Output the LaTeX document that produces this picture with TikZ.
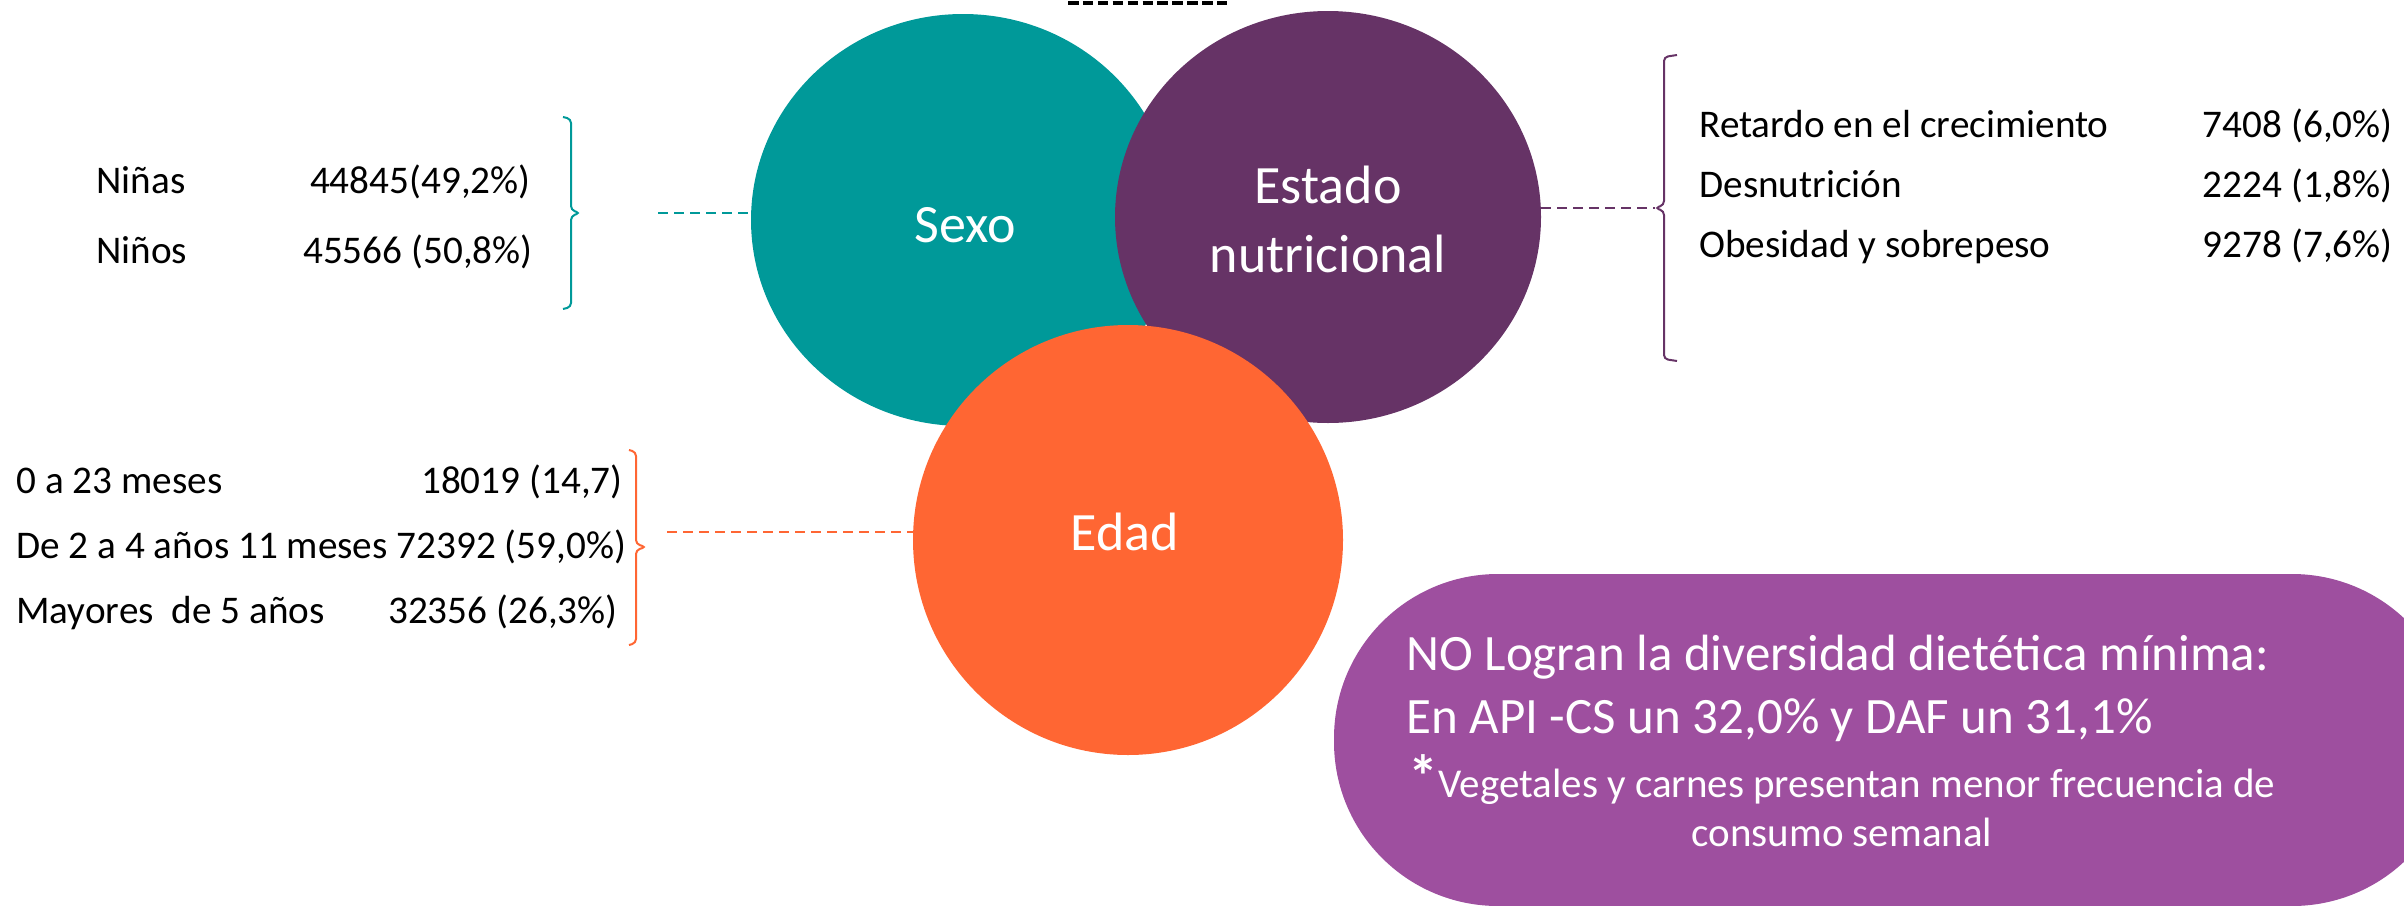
\documentclass[tikz,border=0pt]{standalone}
\usepackage{fontspec}
\setmainfont{Carlito}
\usetikzlibrary{shapes.geometric}
\definecolor{cteal}{RGB}{0,153,153}
\definecolor{cplum}{RGB}{102,51,102}
\definecolor{corange}{RGB}{255,102,51}
\definecolor{cbox}{RGB}{158,79,159}
\begin{document}
\begin{tikzpicture}[x=0.5pt,y=-0.5pt,
  txt/.style={inner sep=0pt, font=\fontsize{19.6pt}{24pt}\selectfont},
  lbl/.style={inner sep=0pt, text=white, font=\fontsize{27pt}{32pt}\selectfont, anchor=base},
  boxtxt/.style={inner sep=0pt, text=white},
  blob/.style={ellipse, inner sep=0pt, draw=none},
  brk/.style={line width=1pt, rounded corners=2pt},
  lead/.style={line width=1.2pt, dash pattern=on 5pt off 3pt}]
\useasboundingbox (0,0) rectangle (2404,905);
\clip (0,0) rectangle (2404,905);

% top dashed stroke
\coordinate (d1) at (1068,3);
\coordinate (d2) at (1227,3);
\draw[line width=1.7pt, dash pattern=on 5.25pt off 2.2pt] (d1) -- (d2);

% three blobs
\node[blob, fill=cteal, minimum width=212pt, minimum height=206pt] (sexo) at (963,220) {};
\node[blob, fill=cplum, minimum width=213pt, minimum height=206pt] (estado) at (1328,217) {};
\node[blob, fill=corange, minimum width=215pt, minimum height=215pt] (edad) at (1128,540) {};

\node[lbl] (tsexo) at (965,242) {Sexo};
\node[lbl] (testado) at (1328,203) {Estado};
\node[lbl] (tnutri) at (1328,272) {nutricional};
\node[lbl] (tedad) at (1125,550) {Edad};

% left top group
\node[txt, anchor=base west] (ninas) at (96,193) {Niñas};
\node[txt, anchor=base east] (ninasv) at (531,193) {44845(49,2\%)};
\node[txt, anchor=base west] (ninos) at (96,263) {Niños};
\node[txt, anchor=base east] (ninosv) at (533,263) {45566 (50,8\%)};
\draw[brk, cteal] (563,117) -- (571,119) -- (571,210) -- (580,213) -- (571,216) -- (571,307) -- (563,309);
\coordinate (tl) at (658,213);
\draw[lead, cteal] (tl) -- (tl -| sexo.west);

% left bottom group
\node[txt, anchor=base west] (e1) at (16,493) {0 a 23 meses};
\node[txt, anchor=base east] (e1v) at (623,493) {18019 (14,7)};
\node[txt, anchor=base west] (e2) at (16,558) {De 2 a 4 años 11 meses 72392 (59,0\%)};
\node[txt, anchor=base west] (e3) at (16,623) {Mayores\ \ de 5 años};
\node[txt, anchor=base east] (e3v) at (618,623) {32356 (26,3\%)};
\draw[brk, corange] (629,450) -- (636,452) -- (636,544) -- (646,547) -- (636,550) -- (636,643) -- (629,645);
\coordinate (ol) at (667,532);
\draw[lead, corange] (ol) -- (ol -| edad.west);

% right group
\node[txt, anchor=base west] (r1) at (1699,137) {Retardo en el crecimiento};
\node[txt, anchor=base east] (r1v) at (2393,137) {7408 (6,0\%)};
\node[txt, anchor=base west] (r2) at (1699,197) {Desnutrición};
\node[txt, anchor=base east] (r2v) at (2393,197) {2224 (1,8\%)};
\node[txt, anchor=base west] (r3) at (1699,257) {Obesidad y sobrepeso};
\node[txt, anchor=base east] (r3v) at (2393,257) {9278 (7,6\%)};
\draw[brk, cplum] (1677,55) -- (1664,57) -- (1664,205) -- (1655,208) -- (1664,211) -- (1664,359) -- (1677,361);
\coordinate (pl) at (1655,208);
\draw[lead, cplum] (estado.east |- pl) -- (pl);

% summary box
\node[fill=cbox, draw=none, rounded corners=82pt, minimum width=561pt, minimum height=166pt, inner sep=0pt] (box) at (1895,740) {};
\node[boxtxt, anchor=base west, font=\fontsize{25.5pt}{30pt}\selectfont] (b1) at (1406,670) {NO Logran la diversidad dietética mínima:};
\node[boxtxt, anchor=base west, font=\fontsize{25.5pt}{30pt}\selectfont] (b2) at (1406,733) {En API -CS un 32,0\% y DAF un 31,1\%};
\node[boxtxt, anchor=base, font=\fontsize{20.5pt}{24pt}\selectfont] (b3) at (1842,797) {{\fontsize{30pt}{30pt}\selectfont\bfseries *}Vegetales y carnes presentan menor frecuencia de};
\node[boxtxt, anchor=base, font=\fontsize{20.5pt}{24pt}\selectfont] (b4) at (1842,846) {consumo semanal};
\end{tikzpicture}
\end{document}
